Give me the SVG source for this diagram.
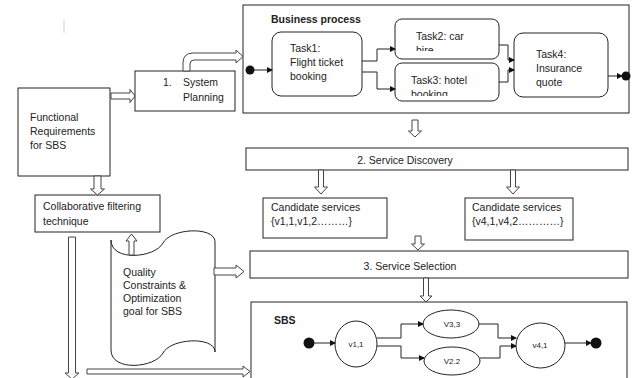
<svg xmlns="http://www.w3.org/2000/svg" width="632" height="378" viewBox="0 0 632 378">
<defs>
<style>
.box{fill:#fff;stroke:#222;stroke-width:1}
.hol{fill:#fff;stroke:#444;stroke-width:1}
.ln{fill:none;stroke:#222;stroke-width:1}
.t{font-family:"Liberation Sans",Arial,sans-serif;font-size:10.5px;fill:#222}
.b{font-weight:bold}
.sm{font-size:8px}
</style>
<marker id="ah" markerWidth="6" markerHeight="6" refX="5" refY="3" orient="auto" markerUnits="userSpaceOnUse">
<path d="M0,0 L6,3 L0,6 Z" fill="#111"/>
</marker>
<clipPath id="c2"><rect x="395" y="19" width="104" height="32"/></clipPath>
<clipPath id="c3"><rect x="395" y="63" width="104" height="33"/></clipPath>
</defs>
<rect width="632" height="378" fill="#fff"/>
<line x1="64" y1="20" x2="64" y2="33" stroke="#ccc" stroke-width="1"/>

<g id="functional-requirements">
<rect class="box" x="18" y="88" width="92" height="88"/>
<text class="t" x="30" y="121" font-size="11">Functional</text>
<text class="t" x="30" y="135" font-size="11">Requirements</text>
<text class="t" x="30" y="149" font-size="11">for SBS</text>
</g>

<g id="system-planning">
<rect class="box" x="135" y="71" width="100" height="40"/>
<text class="t" x="163" y="86" font-size="11">1.</text>
<text class="t" x="183" y="86" font-size="11">System</text>
<text class="t" x="183" y="101" font-size="11">Planning</text>
</g>

<g id="collaborative-filtering">
<rect class="box" x="35" y="195" width="125" height="37"/>
<text class="t" x="43" y="210" font-size="11">Collaborative filtering</text>
<text class="t" x="43" y="225" font-size="11">technique</text>
</g>

<g id="quality-constraints">
<path class="box" d="M111,240 C111,262 155,258 163,243 C171,228 215,226 215,242 L215,352 C215,336 171,338 163,353 C155,368 111,372 111,350 Z"/>
<text class="t" x="123" y="276">Quality</text>
<text class="t" x="123" y="289">Constraints &amp;</text>
<text class="t" x="123" y="302">Optimization</text>
<text class="t" x="123" y="315">goal for SBS</text>
</g>

<g id="business-process">
<rect class="box" x="243" y="5" width="386" height="108"/>
<text class="t b" x="271" y="23" font-size="10">Business process</text>
<circle cx="250" cy="70" r="4.5" fill="#111"/>
<g id="task1">
<rect class="box" x="272" y="32" width="90" height="64" rx="9"/>
<text class="t" x="290" y="52">Task1:</text>
<text class="t" x="290" y="66">Flight ticket</text>
<text class="t" x="290" y="80">booking</text>
</g>
<g id="task2">
<rect class="box" x="395" y="19" width="104" height="40" rx="7"/>
<g clip-path="url(#c2)">
<text class="t" x="416" y="40">Task2: car</text>
<text class="t" x="416" y="54">hire</text>
</g>
</g>
<g id="task3">
<rect class="box" x="395" y="63" width="104" height="38" rx="7"/>
<g clip-path="url(#c3)">
<text class="t" x="411" y="84">Task3: hotel</text>
<text class="t" x="411" y="98">booking</text>
</g>
</g>
<g id="task4">
<rect class="box" x="514" y="33" width="94" height="64" rx="9"/>
<text class="t" x="536" y="58">Task4:</text>
<text class="t" x="536" y="72">Insurance</text>
<text class="t" x="536" y="86">quote</text>
</g>
<circle cx="626" cy="76" r="4.5" fill="#111"/>
</g>

<g id="service-discovery">
<rect class="box" x="246" y="148" width="382" height="22"/>
<text class="t" x="405" y="164" font-size="12.5" text-anchor="middle">2. Service Discovery</text>
</g>

<g id="candidates-1">
<rect class="box" x="263" y="198" width="124" height="40"/>
<text class="t" x="271" y="211" font-size="10">Candidate services</text>
<text class="t" x="271" y="225" font-size="10">{v1,1,v1,2………}</text>
</g>

<g id="candidates-2">
<rect class="box" x="465" y="198" width="108" height="42"/>
<text class="t" x="472" y="211" font-size="10">Candidate services</text>
<text class="t" x="472" y="225" font-size="10">{v4,1,v4,2…………}</text>
</g>

<g id="service-selection">
<rect class="box" x="250" y="251" width="378" height="27"/>
<text class="t" x="410" y="270" font-size="11" text-anchor="middle">3. Service Selection</text>
</g>

<g id="sbs">
<rect class="box" x="251" y="302" width="376" height="90"/>
<text class="t b" x="274" y="324" font-size="10">SBS</text>
<circle cx="309" cy="343" r="5.5" fill="#111"/>
<g id="v11"><ellipse class="box" cx="356" cy="344" rx="21" ry="23"/><text class="t sm" x="356" y="347" text-anchor="middle">v1,1</text></g>
<g id="v33"><ellipse class="box" cx="451" cy="324" rx="28" ry="14"/><text class="t sm" x="452" y="327" text-anchor="middle">V3,3</text></g>
<g id="v22"><ellipse class="box" cx="452" cy="361" rx="28" ry="14"/><text class="t sm" x="452" y="364" text-anchor="middle">V2.2</text></g>
<g id="v41"><ellipse class="box" cx="540.5" cy="345.5" rx="24.5" ry="22.5"/><text class="t sm" x="540" y="348" text-anchor="middle">v4,1</text></g>
<circle cx="596" cy="343" r="5.5" fill="#111"/>
</g>

<g id="connectors">
<path class="hol" d="M111,93 L130,93 L130,89.5 L135,96 L130,102.5 L130,99 L111,99 Z"/>
<path class="hol" d="M94,176 L101,176 L101,189 L104.5,189 L97.5,195 L90.5,189 L94,189 Z"/>
<path class="hol" d="M68.5,237 L75.5,237 L75.5,373 L79,373 L72,379 L65,373 L68.5,373 Z"/>
<path class="hol" d="M129,255 L134,255 L134,241 L137,241 L131.5,234 L126,241 L129,241 Z"/>
<path class="hol" d="M214,268 L236,268 L236,265 L244,271.5 L236,278 L236,275 L214,275 Z"/>
<path class="hol" d="M87,369 L243,369 L243,366 L250,371.5 L243,377 L243,374 L87,374 Z"/>
<path class="hol" d="M183,71 L183,63 Q183,53 193,53 L236,53 L236,50 L243,56.5 L236,63 L236,60 L194,60 Q190,60 190,64 L190,71 Z"/>
<path class="hol" d="M412,120 L418,120 L418,131 L421.5,131 L415,137 L408.5,131 L412,131 Z"/>
<path class="hol" d="M318.5,170 L323.5,170 L323.5,187 L327.5,187 L321,194 L314.5,187 L318.5,187 Z"/>
<path class="hol" d="M510.5,170 L515.5,170 L515.5,187 L519.5,187 L513,194 L506.5,187 L510.5,187 Z"/>
<path class="hol" d="M415,236 L421,236 L421,244 L424.5,244 L418,250 L411.5,244 L415,244 Z"/>
<path class="hol" d="M423.5,278 L428.5,278 L428.5,296 L432,296 L426,302 L420,296 L423.5,296 Z"/>

<path class="ln" d="M254,70 L272,70" marker-end="url(#ah)"/>
<path class="ln" d="M362,61 L377,61 L377,49 L395,49" marker-end="url(#ah)"/>
<path class="ln" d="M362,72 L377,72 L377,89 L395,89" marker-end="url(#ah)"/>
<path class="ln" d="M499,45 L508,45 L508,60 L514,60" marker-end="url(#ah)"/>
<path class="ln" d="M499,82 L508,82 L508,70 L514,70" marker-end="url(#ah)"/>
<path class="ln" d="M608,76 L622,76" marker-end="url(#ah)"/>

<path class="ln" d="M314,343 L335,343" marker-end="url(#ah)"/>
<path class="ln" d="M377,338 L401,338 L401,324 L423,324" marker-end="url(#ah)"/>
<path class="ln" d="M377,346 L401,346 L401,358 L424,358" marker-end="url(#ah)"/>
<path class="ln" d="M479,324 L498,324 L498,338 L516,338" marker-end="url(#ah)"/>
<path class="ln" d="M480,358 L500,358 L500,346 L516,346" marker-end="url(#ah)"/>
<path class="ln" d="M565,343 L591,343" marker-end="url(#ah)"/>
</g>
</svg>
